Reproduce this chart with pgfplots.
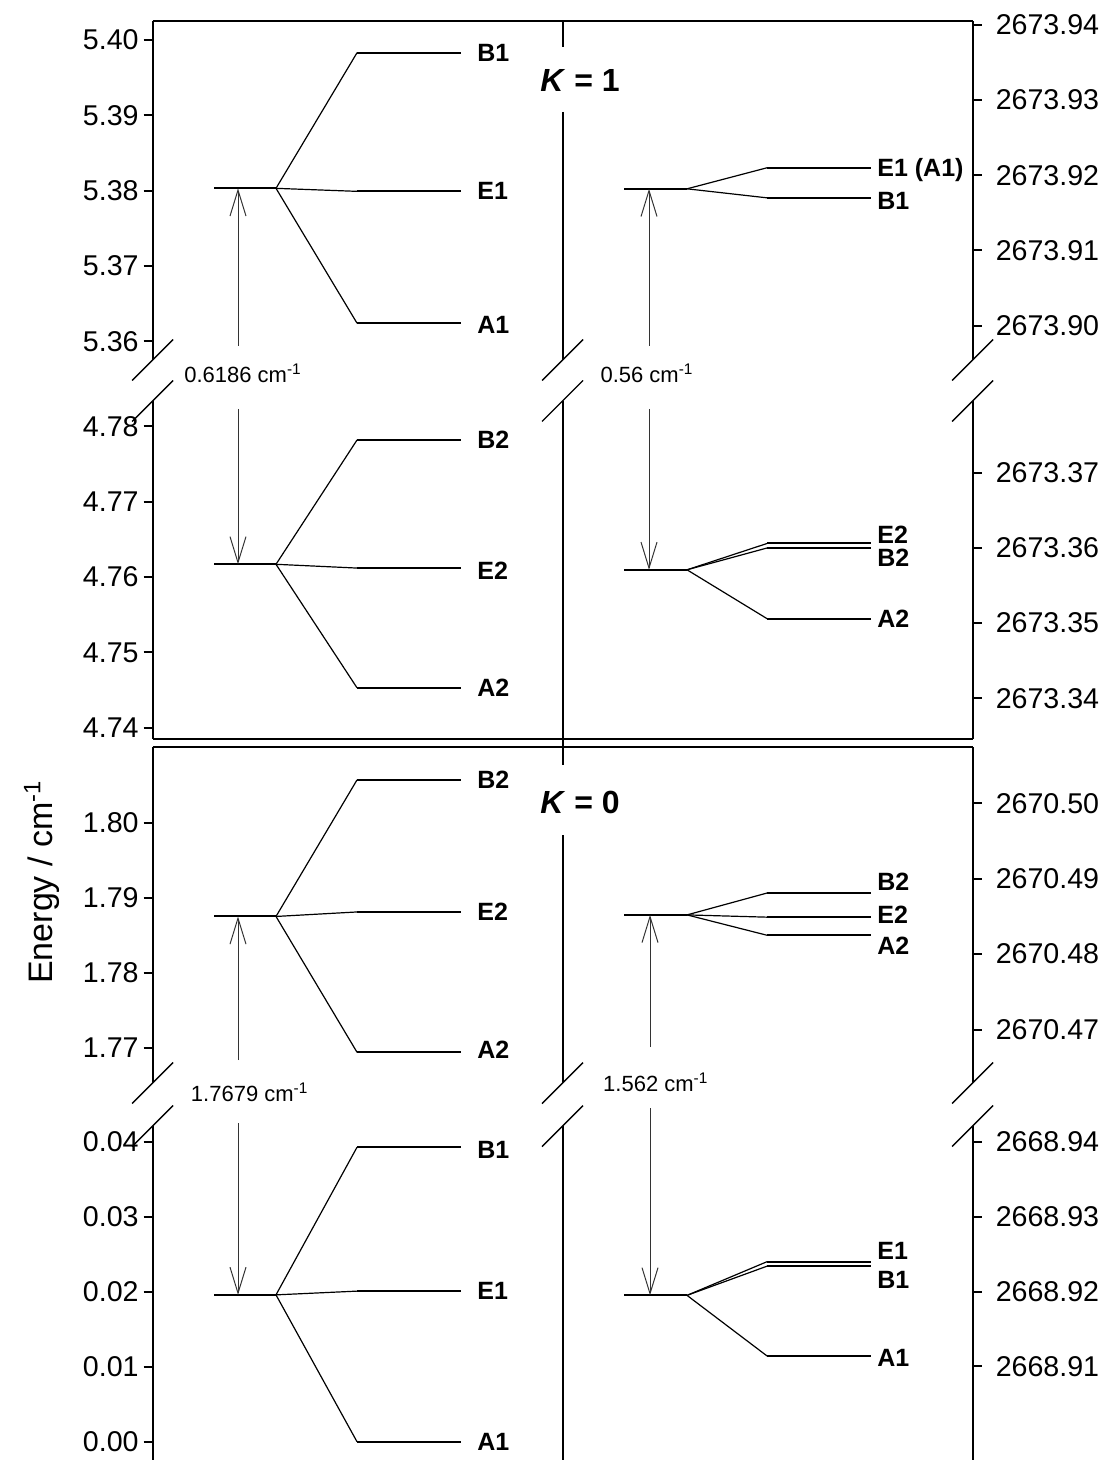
\documentclass[border=0pt]{standalone}
\usepackage{pgfplots}
\pgfplotsset{compat=1.18}
\usepackage{fontspec}
\setmainfont{Liberation Sans}
\usetikzlibrary{arrows.meta}

% exact offset subtraction (avoids loss of precision for values like 2673.9182)
\makeatletter
\def\trafoin#1{\pgfutil@in@{Y}{#1}%
  \ifpgfutil@in@\expandafter\trafofloat#1\relax\else\edef\trafoval{#1}\fi}
\def\trafofloat#1Y#2e#3]#4\relax{\edef\trafoval{\fpeval{#2*10^(#3)}}}
\makeatother

\pgfplotsset{
  seg/.style={scale only axis, width=410pt, xmin=152.7, xmax=972.7,
    axis x line=none, clip=false, tick align=outside, major tick length=4.5pt,
    axis line style={line width=1pt, black},
    tick style={line width=1pt, black},
    tick label style={font=\fontsize{14.3}{17}\selectfont},
    scaled y ticks=false, anchor=north west},
  L/.style={seg, axis y line*=left, yticklabel style={xshift=1pt}},
  R/.style={seg, axis y line*=right, yticklabel style={xshift=3.5pt},
    y coord trafo/.code={\trafoin{##1}\pgfmathfloatparsenumber{\fpeval{\trafoval-#1}}}},
}
\tikzset{
  lvl/.style={line width=1pt, black, mark=none},
  con/.style={line width=0.6pt, black, mark=none},
  frame/.style={line width=1pt, black},
  brk/.style={line width=0.7pt, black},
  arr/.style={line width=0.5pt, black!80, -{Straight Barb[length=13pt,width=8pt]}},
  lab/.style={font=\bfseries\fontsize{12.5}{14}\selectfont, anchor=west, inner sep=0pt},
}

\begin{document}
\begin{tikzpicture}
\useasboundingbox (0pt,0pt) rectangle (552pt,-730pt);

% ================= TOP PANEL (K = 1) =================
% upper segment, left scale
\begin{axis}[L, at={(76.35pt,-10.5pt)}, height=169.5pt, ymin=5.357503, ymax=5.402523,
  ytick={5.36,5.37,5.38,5.39,5.40}, yticklabels={5.36,5.37,5.38,5.39,5.40}]
\draw[frame] (rel axis cs:0,1) -- (rel axis cs:1,1);
\addplot[lvl] coordinates {(562.5,5.402523) (562.5,5.399070)};
\addplot[lvl] coordinates {(562.5,5.390438) (562.5,5.357503)};
\draw[brk] (rel axis cs:0,0) ++(-10.25pt,-10.25pt) -- ++(20.5pt,20.5pt);
\draw[brk] (axis cs:562.5,5.357503) ++(-10.25pt,-10.25pt) -- ++(20.5pt,20.5pt);
\addplot[lvl] coordinates {(214,5.3803) (276,5.3803)};
\addplot[con] coordinates {(276,5.3803) (357,5.3983)};
\addplot[con] coordinates {(276,5.3803) (357,5.3799)};
\addplot[con] coordinates {(276,5.3803) (357,5.3624)};
\addplot[lvl] coordinates {(357,5.3983) (461,5.3983)};
\addplot[lvl] coordinates {(357,5.3799) (461,5.3799)};
\addplot[lvl] coordinates {(357,5.3624) (461,5.3624)};
\node[lab] at (axis cs:477,5.3983) {B1};
\node[lab] at (axis cs:477,5.3799) {E1};
\node[lab] at (axis cs:477,5.3624) [yshift=-1pt] {A1};
\draw[arr] (axis cs:238,5.359363) -- (axis cs:238,5.3803);
\end{axis}

% upper segment, right scale
\begin{axis}[R=2673, at={(76.35pt,-10.5pt)}, height=169.5pt, ymin=2673.895423, ymax=2673.940532,
  ytick={2673.90,2673.91,2673.92,2673.93,2673.94},
  yticklabels={2673.90,2673.91,2673.92,2673.93,2673.94}]
\draw[brk] (rel axis cs:1,0) ++(-10.25pt,-10.25pt) -- ++(20.5pt,20.5pt);
\addplot[lvl] coordinates {(624,2673.9182) (687,2673.9182)};
\addplot[con] coordinates {(687,2673.9182) (767,2673.9210)};
\addplot[con] coordinates {(687,2673.9182) (767,2673.9170)};
\addplot[lvl] coordinates {(767,2673.9210) (871,2673.9210)};
\addplot[lvl] coordinates {(767,2673.9170) (871,2673.9170)};
\node[lab] at (axis cs:877,2673.9210) [yshift=-1pt] {E1 (A1)};
\node[lab] at (axis cs:877,2673.9170) [yshift=-1.5pt] {B1};
\draw[arr] (axis cs:649,2673.897285) -- (axis cs:649,2673.9182);
\end{axis}

% lower segment, left scale
\begin{axis}[L, at={(76.35pt,-200.5pt)}, height=168.85pt, ymin=4.738539, ymax=4.783386,
  ytick={4.74,4.75,4.76,4.77,4.78}, yticklabels={4.74,4.75,4.76,4.77,4.78}]
\draw[frame] (rel axis cs:0,0) -- (rel axis cs:1,0);
\addplot[lvl] coordinates {(562.5,4.783386) (562.5,4.735046)};
\draw[brk] (rel axis cs:0,1) ++(-10.25pt,-10.25pt) -- ++(20.5pt,20.5pt);
\draw[brk] (axis cs:562.5,4.783386) ++(-10.25pt,-10.25pt) -- ++(20.5pt,20.5pt);
\addplot[lvl] coordinates {(214,4.7617) (276,4.7617)};
\addplot[con] coordinates {(276,4.7617) (357,4.7782)};
\addplot[con] coordinates {(276,4.7617) (357,4.7612)};
\addplot[con] coordinates {(276,4.7617) (357,4.7453)};
\addplot[lvl] coordinates {(357,4.7782) (461,4.7782)};
\addplot[lvl] coordinates {(357,4.7612) (461,4.7612)};
\addplot[lvl] coordinates {(357,4.7453) (461,4.7453)};
\node[lab] at (axis cs:477,4.7782) {B2};
\node[lab] at (axis cs:477,4.7612) [yshift=-1.5pt] {E2};
\node[lab] at (axis cs:477,4.7453) {A2};
\draw[arr] (axis cs:238,4.782324) -- (axis cs:238,4.7617);
\end{axis}

% lower segment, right scale
\begin{axis}[R=2673, at={(76.35pt,-200.5pt)}, height=168.85pt, ymin=2673.334624, ymax=2673.379561,
  ytick={2673.34,2673.35,2673.36,2673.37},
  yticklabels={2673.34,2673.35,2673.36,2673.37}]
\draw[brk] (rel axis cs:1,1) ++(-10.25pt,-10.25pt) -- ++(20.5pt,20.5pt);
\addplot[lvl] coordinates {(624,2673.3571) (687,2673.3571)};
\addplot[con] coordinates {(687,2673.3571) (767,2673.3606)};
\addplot[con] coordinates {(687,2673.3571) (767,2673.3600)};
\addplot[con] coordinates {(687,2673.3571) (767,2673.3506)};
\addplot[lvl] coordinates {(767,2673.3606) (871,2673.3606)};
\addplot[lvl] coordinates {(767,2673.3600) (871,2673.3600)};
\addplot[lvl] coordinates {(767,2673.3506) (871,2673.3506)};
\node[lab] at (axis cs:877,2673.3606) [yshift=4.5pt] {E2};
\node[lab] at (axis cs:877,2673.3600) [yshift=-5pt] {B2};
\node[lab] at (axis cs:877,2673.3506) {A2};
\draw[arr] (axis cs:649,2673.378497) -- (axis cs:649,2673.3571);
\end{axis}

% ================= BOTTOM PANEL (K = 0) =================
% upper segment, left scale
\begin{axis}[L, at={(76.35pt,-373.35pt)}, height=168.15pt, ymin=1.765293, ymax=1.810133,
  ytick={1.77,1.78,1.79,1.80}, yticklabels={1.77,1.78,1.79,1.80}]
\draw[frame] (rel axis cs:0,1) -- (rel axis cs:1,1);
\addplot[lvl] coordinates {(562.5,1.798360) (562.5,1.765293)};
\draw[brk] (rel axis cs:0,0) ++(-10.25pt,-10.25pt) -- ++(20.5pt,20.5pt);
\draw[brk] (axis cs:562.5,1.765293) ++(-10.25pt,-10.25pt) -- ++(20.5pt,20.5pt);
\addplot[lvl] coordinates {(214,1.7875) (276,1.7875)};
\addplot[con] coordinates {(276,1.7875) (357,1.8057)};
\addplot[con] coordinates {(276,1.7875) (357,1.7881)};
\addplot[con] coordinates {(276,1.7875) (357,1.7694)};
\addplot[lvl] coordinates {(357,1.8057) (461,1.8057)};
\addplot[lvl] coordinates {(357,1.7881) (461,1.7881)};
\addplot[lvl] coordinates {(357,1.7694) (461,1.7694)};
\node[lab] at (axis cs:477,1.8057) {B2};
\node[lab] at (axis cs:477,1.7881) {E2};
\node[lab] at (axis cs:477,1.7694) [yshift=1pt] {A2};
\draw[arr] (axis cs:238,1.768360) -- (axis cs:238,1.7875);
\end{axis}

% upper segment, right scale
\begin{axis}[R=2670, at={(76.35pt,-373.35pt)}, height=168.15pt, ymin=2670.462905, ymax=2670.507507,
  ytick={2670.47,2670.48,2670.49,2670.50},
  yticklabels={2670.47,2670.48,2670.49,2670.50}]
\draw[brk] (rel axis cs:1,0) ++(-10.25pt,-10.25pt) -- ++(20.5pt,20.5pt);
\addplot[lvl] coordinates {(624,2670.4852) (687,2670.4852)};
\addplot[con] coordinates {(687,2670.4852) (767,2670.4881)};
\addplot[con] coordinates {(687,2670.4852) (767,2670.4849)};
\addplot[con] coordinates {(687,2670.4852) (767,2670.4825)};
\addplot[lvl] coordinates {(767,2670.4881) (871,2670.4881)};
\addplot[lvl] coordinates {(767,2670.4849) (871,2670.4849)};
\addplot[lvl] coordinates {(767,2670.4825) (871,2670.4825)};
\node[lab] at (axis cs:877,2670.4881) [yshift=5.5pt] {B2};
\node[lab] at (axis cs:877,2670.4849) [yshift=1pt] {E2};
\node[lab] at (axis cs:877,2670.4825) [yshift=-5.5pt] {A2};
\draw[arr] (axis cs:650,2670.467679) -- (axis cs:650,2670.4852);
\end{axis}

% lower segment, left scale
\begin{axis}[L, at={(76.35pt,-563pt)}, height=172pt, ymin=-0.003777, ymax=0.042138,
  ytick={0,0.01,0.02,0.03,0.04}, yticklabels={0.00,0.01,0.02,0.03,0.04}]
\addplot[lvl] coordinates {(562.5,0.042138) (562.5,-0.003777)};
\draw[brk] (rel axis cs:0,1) ++(-10.25pt,-10.25pt) -- ++(20.5pt,20.5pt);
\draw[brk] (axis cs:562.5,0.042138) ++(-10.25pt,-10.25pt) -- ++(20.5pt,20.5pt);
\addplot[lvl] coordinates {(214,0.0196) (276,0.0196)};
\addplot[con] coordinates {(276,0.0196) (357,0.0393)};
\addplot[con] coordinates {(276,0.0196) (357,0.0201)};
\addplot[con] coordinates {(276,0.0196) (357,0.0000)};
\addplot[lvl] coordinates {(357,0.0393) (461,0.0393)};
\addplot[lvl] coordinates {(357,0.0201) (461,0.0201)};
\addplot[lvl] coordinates {(357,0.0000) (461,0.0000)};
\node[lab] at (axis cs:477,0.0393) [yshift=-1.5pt] {B1};
\node[lab] at (axis cs:477,0.0201) {E1};
\node[lab] at (axis cs:477,0.0000) {A1};
\draw[arr] (axis cs:238,0.042538) -- (axis cs:238,0.0196);
\end{axis}

% lower segment, right scale
\begin{axis}[R=2668, at={(76.35pt,-563pt)}, height=172pt, ymin=2668.896150, ymax=2668.942139,
  ytick={2668.91,2668.92,2668.93,2668.94},
  yticklabels={2668.91,2668.92,2668.93,2668.94}]
\draw[brk] (rel axis cs:1,1) ++(-10.25pt,-10.25pt) -- ++(20.5pt,20.5pt);
\addplot[lvl] coordinates {(624,2668.9195) (687,2668.9195)};
\addplot[con] coordinates {(687,2668.9195) (767,2668.9240)};
\addplot[con] coordinates {(687,2668.9195) (767,2668.9234)};
\addplot[con] coordinates {(687,2668.9195) (767,2668.9114)};
\addplot[lvl] coordinates {(767,2668.9240) (871,2668.9240)};
\addplot[lvl] coordinates {(767,2668.9234) (871,2668.9234)};
\addplot[lvl] coordinates {(767,2668.9114) (871,2668.9114)};
\node[lab] at (axis cs:877,2668.9240) [yshift=5.5pt] {E1};
\node[lab] at (axis cs:877,2668.9234) [yshift=-7pt] {B1};
\node[lab] at (axis cs:877,2668.9114) [yshift=-1pt] {A1};
\draw[arr] (axis cs:650,2668.944545) -- (axis cs:650,2668.9195);
\end{axis}

% ================= TEXT =================
\node[font=\bfseries\fontsize{16}{19}\selectfont] at (290pt,-40.25pt) {\textit{K} = 1};
\node[font=\bfseries\fontsize{16}{19}\selectfont] at (290pt,-401.25pt) {\textit{K} = 0};
\node[font=\fontsize{11}{13}\selectfont] at (121.5pt,-186.5pt) {0.6186 cm\textsuperscript{-1}};
\node[font=\fontsize{11}{13}\selectfont] at (323.5pt,-186.5pt) {0.56 cm\textsuperscript{-1}};
\node[font=\fontsize{11}{13}\selectfont] at (124.85pt,-546pt) {1.7679 cm\textsuperscript{-1}};
\node[font=\fontsize{11}{13}\selectfont] at (327.9pt,-541pt) {1.562 cm\textsuperscript{-1}};
\node[rotate=90, font=\fontsize{17}{20}\selectfont] at (21pt,-441pt) {Energy / cm\textsuperscript{-1}};
\end{tikzpicture}
\end{document}
